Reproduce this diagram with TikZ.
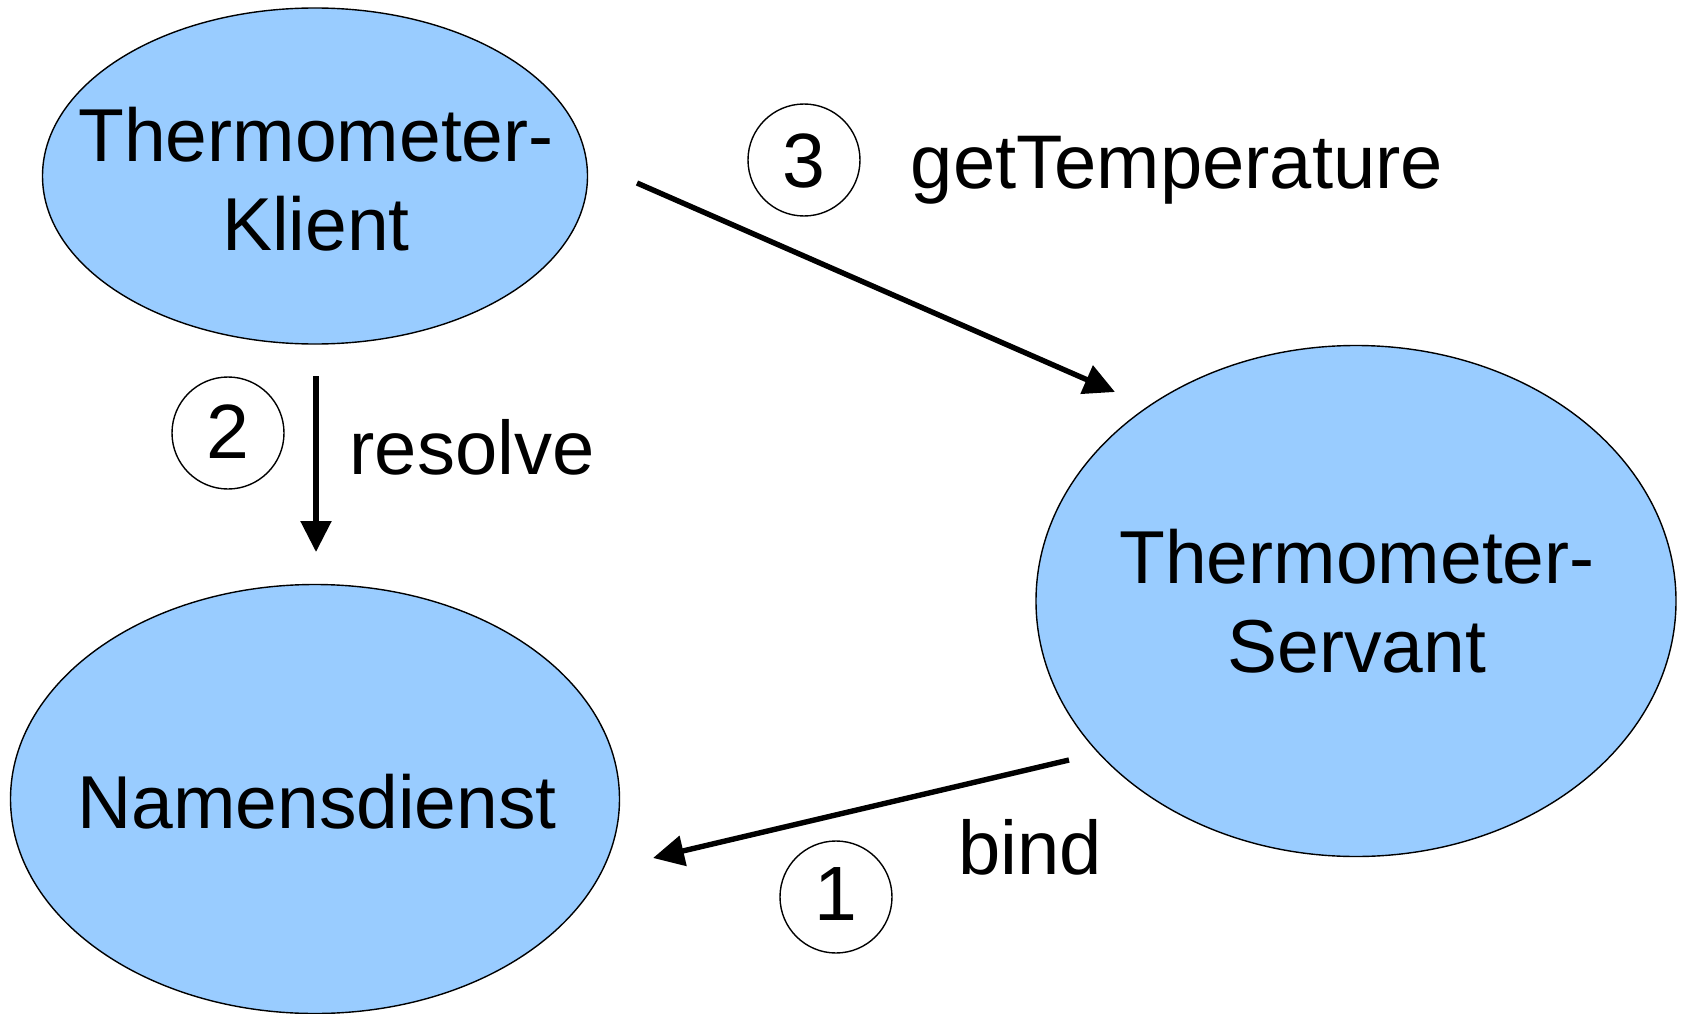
\documentclass[tikz,border=0pt]{standalone}
\usepackage{fontspec}
\setmainfont{Liberation Sans}
\usetikzlibrary{shapes.geometric,arrows.meta}
\definecolor{nodeblue}{HTML}{99CCFF}
\tikzset{
  blob/.style={ellipse, draw=black, line width=1.4pt, fill=nodeblue, inner sep=0pt},
  bigtext/.style={font=\fontsize{75}{89}\selectfont, align=center, anchor=base, inner sep=0pt},
  lbltext/.style={font=\fontsize{76}{80}\selectfont, anchor=base, inner sep=0pt},
  numcircle/.style={circle, draw=black, line width=1.4pt, minimum size=112pt, inner sep=0pt},
  numtext/.style={font=\fontsize{77}{80}\selectfont, anchor=base, inner sep=0pt},
  flow/.style={line width=5.4pt, -{Triangle[length=31pt,width=30pt]}}
}
\begin{document}
\begin{tikzpicture}[x=1pt,y=-1pt]
\useasboundingbox (0,0) rectangle (1681,1014);
% ellipses
\node[blob, minimum width=545pt, minimum height=336pt] (kl) at (315,176) {};
\node[blob, minimum width=609pt, minimum height=429pt] (nd) at (315,799) {};
\node[blob, minimum width=640pt, minimum height=511pt] (sv) at (1356,601) {};
% ellipse texts (base anchor = last line)
\node[bigtext] (klt) at (316,250) {Thermometer-\\Klient};
\node[bigtext] (svt) at (1357,672) {Thermometer-\\Servant};
\node[bigtext] (ndt) at (317,828) {Namensdienst};
% number circles
\node[numcircle] (c3) at (804,160) {};
\node[numcircle] (c2) at (228,433) {};
\node[numcircle] (c1) at (836,897) {};
\node[numtext] (n3) at (804,187) {3};
\node[numtext] (n2) at (228,458) {2};
\node[numtext] (n1) at (836,920) {1};
% labels
\node[lbltext] (lgt) at (1177,188) {getTemperature};
\node[lbltext] (lrs) at (472,474) {resolve};
\node[lbltext] (lbd) at (1030,874) {bind};
% connector ends
\coordinate (a3s) at (637,183);
\coordinate (a3e) at (1115,392);
\coordinate (a2s) at (316,376);
\coordinate (a2e) at (316,552);
\coordinate (a1s) at (1069,760);
\coordinate (a1e) at (653,858);
\draw[flow] (a3s) -- (a3e);
\draw[flow] (a2s) -- (a2e);
\draw[flow] (a1s) -- (a1e);
\end{tikzpicture}
\end{document}
